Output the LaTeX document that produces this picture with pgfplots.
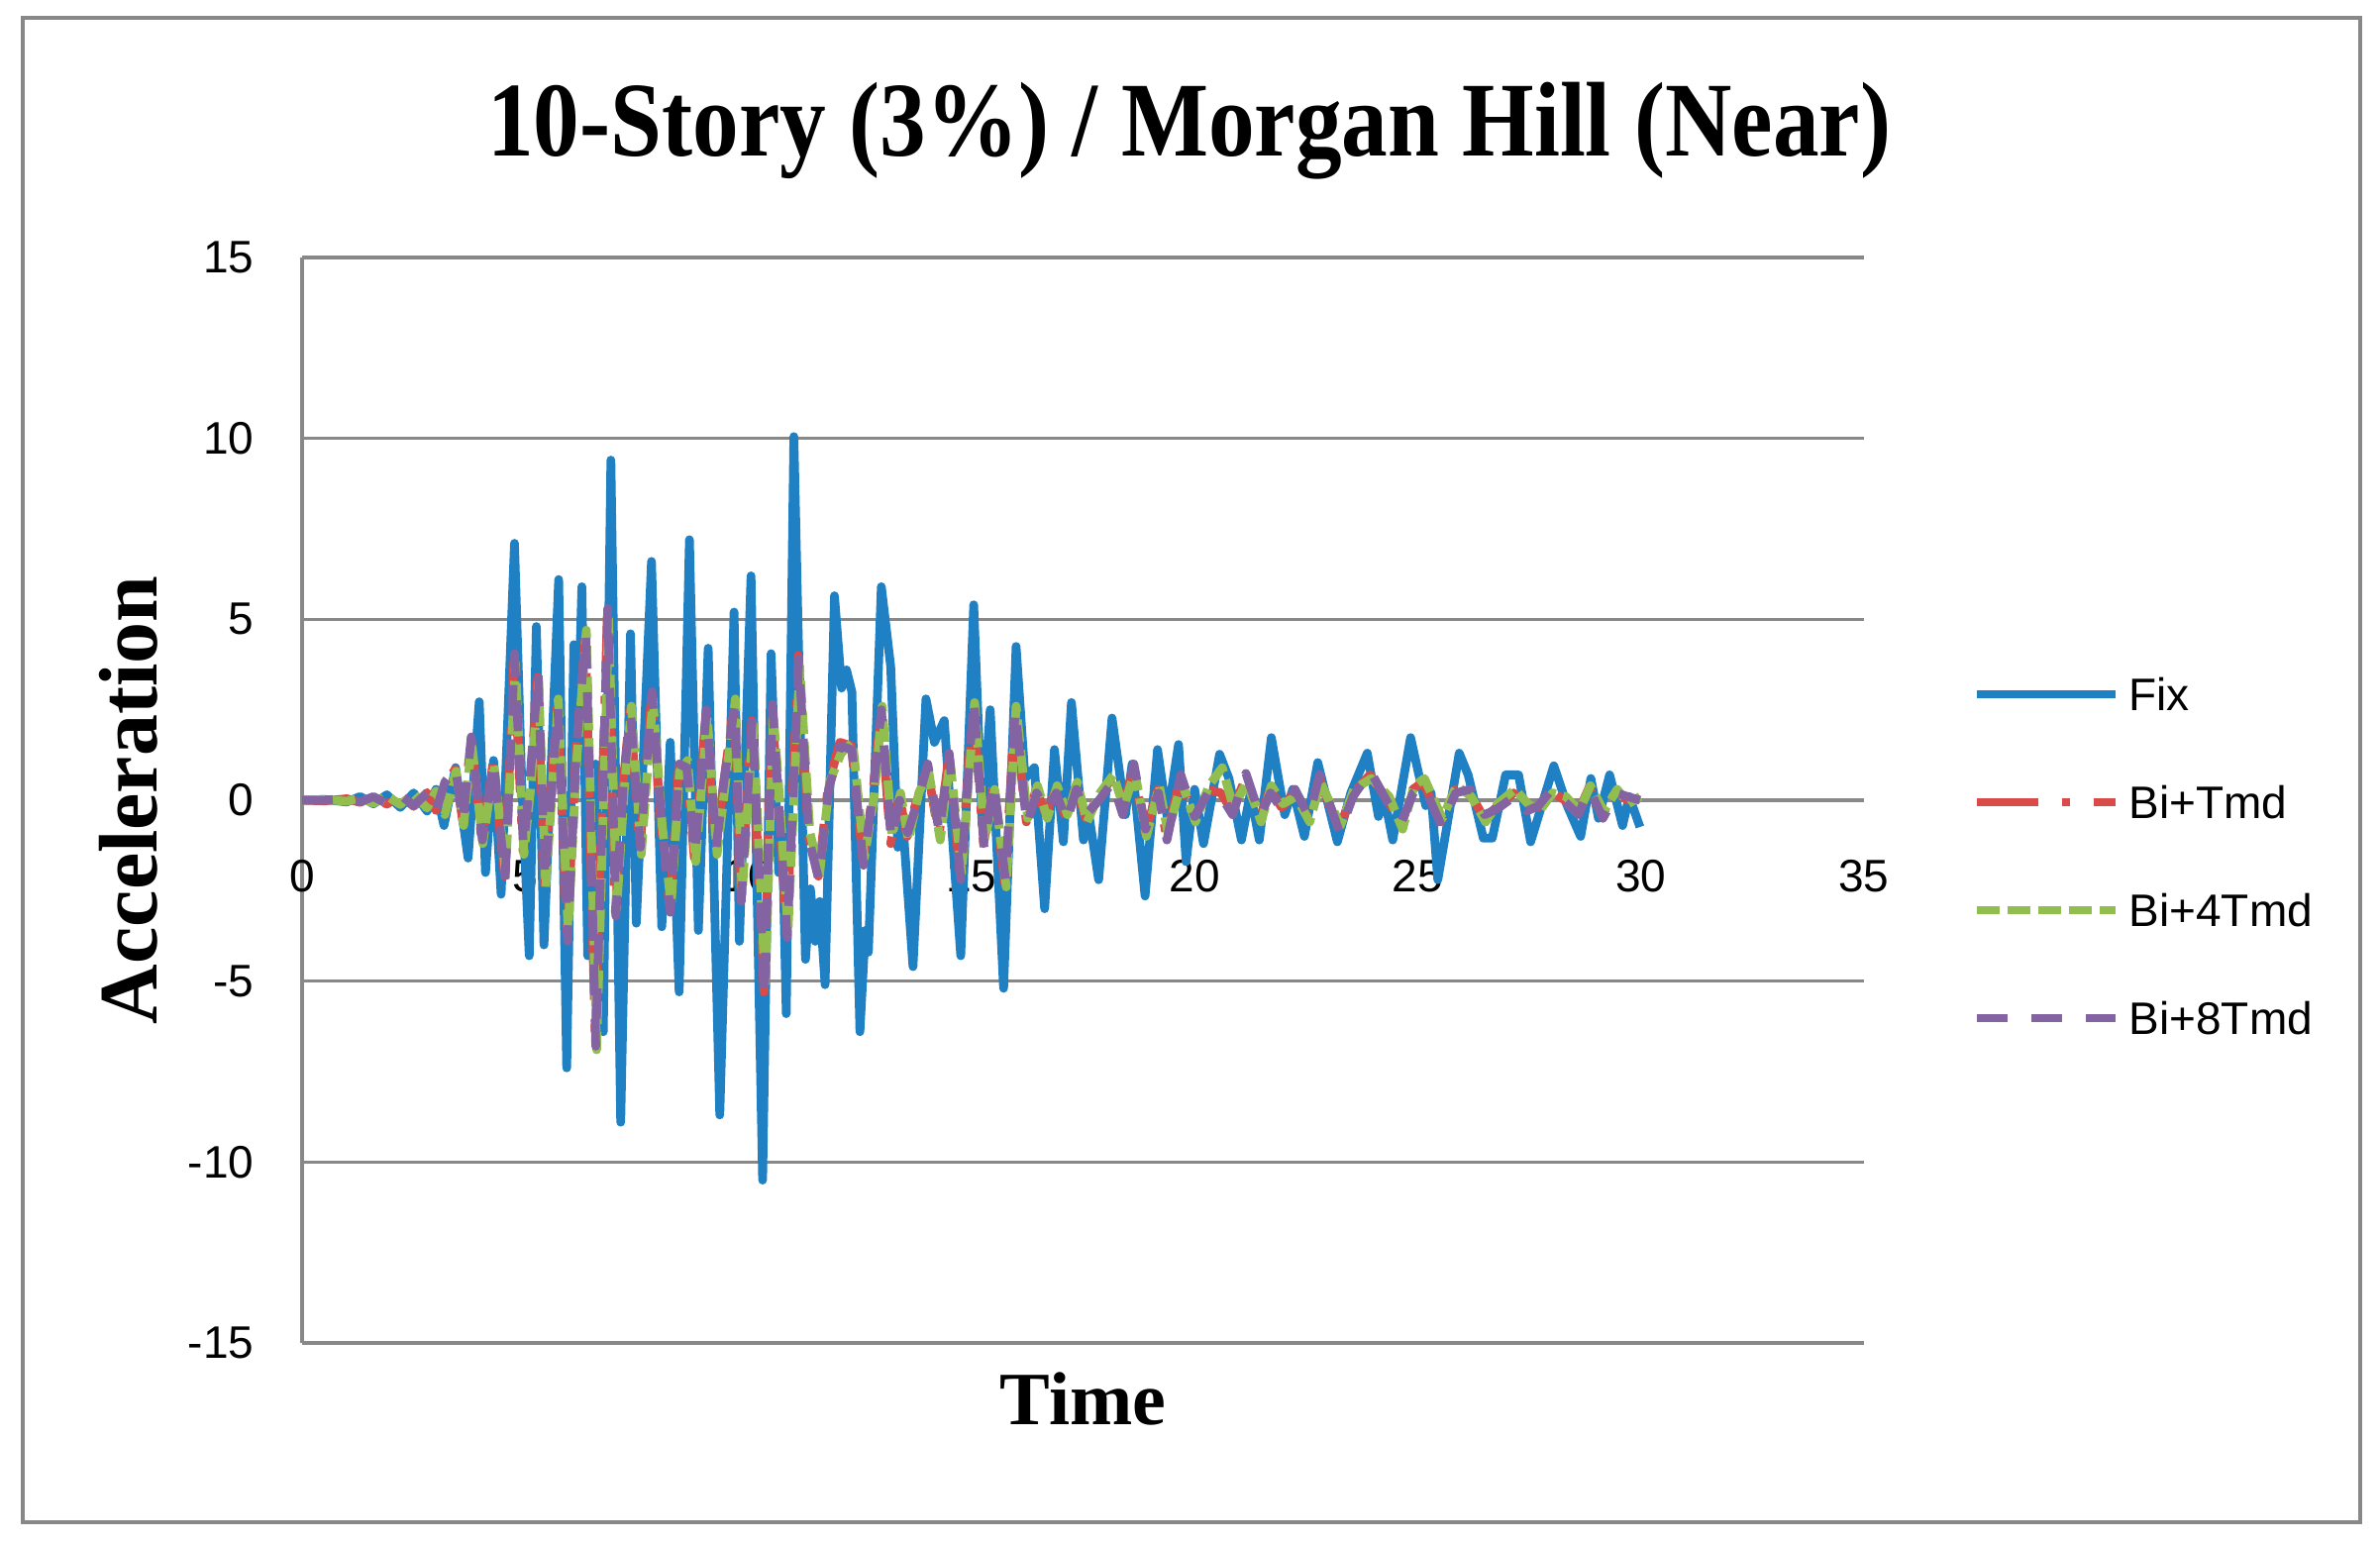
\documentclass[border=0pt]{standalone}
\usepackage{fontspec}
\setmainfont{Liberation Sans}
\newfontfamily\titlefont{Liberation Serif}
\usepackage{graphicx}
\usepackage{pgfplots}
\pgfplotsset{compat=1.18}

\definecolor{fixblue}{RGB}{31,128,196}
\definecolor{tmdred}{RGB}{217,75,72}
\definecolor{tmdgreen}{RGB}{146,190,80}
\definecolor{tmdpurple}{RGB}{132,99,163}
\definecolor{gridgray}{RGB}{136,136,136}

\begin{document}
\begin{tikzpicture}
\path[use as bounding box] (0,0) rectangle (600.75pt,389.75pt);
\draw[gridgray, line width=1pt] (5.75pt,5.5pt) rectangle (595.75pt,385.25pt);
\begin{axis}[
    at={(76.25pt,50.75pt)}, anchor=south west,
    scale only axis, width=394.25pt, height=274pt,
    xmin=0, xmax=35, ymin=-15, ymax=15,
    xtick={0,5,...,35}, ytick={-15,-10,...,15},
    axis x line*=middle, axis y line*=left,
    hide obscured x ticks=false, hide obscured y ticks=false,
    axis line style={draw=gridgray, line width=1pt},
    ymajorgrids, major grid style={draw=gridgray, line width=0.8pt},
    major tick length=0pt, tick style={draw=none},
    /pgf/number format/assume math mode=true,
    ticklabel style={font=\fontsize{11.5}{13}\selectfont, inner sep=0pt},
    xticklabel style={anchor=north, yshift=-15pt},
    yticklabel style={anchor=east, xshift=-12pt},
    title={\scalebox{0.87}[1]{10-Story (3\%) / Morgan Hill (Near)}},
    every axis title/.style={at={(axis description cs:0.568,1.0931)}, anchor=base,
        font=\titlefont\bfseries\fontsize{26.8}{30}\selectfont},
    xlabel={Time},
    every axis x label/.style={at={(axis description cs:0.5,-0.0757)}, anchor=base,
        font=\titlefont\bfseries\fontsize{19}{22}\selectfont},
    ylabel={Acceleration},
    every axis y label/.style={at={(axis description cs:-0.0932,0.5)}, anchor=base, rotate=90,
        font=\titlefont\bfseries\fontsize{21}{24}\selectfont},
    legend style={draw=none, fill=none, at={(axis description cs:1.069,0.4485)}, anchor=west,
        inner sep=0pt, font=\fontsize{11.5}{13}\selectfont, row sep=19pt,
        nodes={inner sep=0pt, text height=8.3pt, text depth=0pt},
        /tikz/every odd column/.append style={column sep=2.5pt}},
    legend cell align=left,
    legend image code/.code={\draw[#1, line width=2pt] (0pt,0pt) -- (35pt,0pt);},
    every axis plot/.append style={line width=2.2pt, line join=round},
]

% Fix
\addplot[fixblue] coordinates {
(0,0) (0.5,0.02) (1.0,-0.05) (1.3,0.1) (1.6,-0.1) (1.9,0.15) (2.2,-0.2) (2.5,0.2)
(2.8,-0.3) (3.0,0.3) (3.18,-0.7) (3.44,0.9) (3.72,-1.6) (3.97,2.72) (4.11,-2.0)
(4.29,1.1) (4.46,-2.6) (4.76,7.1) (4.92,0.55) (5.09,-4.3) (5.25,4.8) (5.42,-4.0)
(5.75,6.1) (5.93,-7.4) (6.09,4.3) (6.17,1.5) (6.27,5.9) (6.40,-4.3) (6.58,1.0)
(6.75,-6.4) (6.92,9.4) (7.14,-8.9) (7.36,4.6) (7.49,-3.4) (7.83,6.6) (8.06,-3.5)
(8.25,1.6) (8.45,-5.3) (8.68,7.2) (8.88,-3.6) (9.10,4.2) (9.36,-8.7) (9.68,5.2)
(9.80,-3.9) (10.06,6.2) (10.32,-10.5) (10.51,4.05) (10.68,-2.0) (10.76,-0.8)
(10.85,-5.9) (11.02,10.05) (11.28,-4.4) (11.39,-2.45) (11.50,-3.9) (11.6,-2.8)
(11.72,-5.1) (11.93,5.65) (12.09,3.1) (12.2,3.6) (12.32,3.0) (12.50,-6.4)
(12.62,-3.6) (12.69,-4.2) (12.98,5.9) (13.19,3.7) (13.35,-1.3) (13.45,-0.4)
(13.69,-4.6) (13.98,2.8) (14.17,1.6) (14.39,2.2) (14.76,-4.3) (15.05,5.4)
(15.24,-0.7) (15.42,2.5) (15.72,-5.2) (16.00,4.25) (16.2,0.6) (16.41,0.9)
(16.64,-3.0) (16.86,1.4) (17.06,-1.15) (17.24,2.7) (17.51,-1.1) (17.62,-0.3)
(17.85,-2.2) (18.15,2.27) (18.45,-0.4) (18.6,1.0) (18.89,-2.65) (19.17,1.4)
(19.39,-0.5) (19.64,1.54) (19.81,-1.7) (20.0,0.3) (20.2,-1.2) (20.56,1.27)
(20.77,0.6) (21.05,-1.1) (21.25,0.2) (21.45,-1.1) (21.72,1.73) (22.02,-0.4)
(22.2,0.3) (22.46,-1.0) (22.76,1.04) (23.2,-1.15) (23.5,0.2) (23.87,1.3)
(24.12,-0.45) (24.25,0.1) (24.44,-1.1) (24.84,1.73) (25.18,-0.15) (25.3,0.2)
(25.45,-2.2) (25.93,1.3) (26.13,0.7) (26.47,-1.05) (26.67,-1.05) (26.97,0.7)
(27.26,0.7) (27.53,-1.15) (28.05,0.95) (28.35,-0.15) (28.65,-1.0) (28.88,0.6)
(29.05,-0.5) (29.3,0.7) (29.59,-0.7) (29.74,0.1) (29.98,-0.74)
};
\addlegendentry{Fix}

% Bi+Tmd
\addplot[tmdred, dash pattern=on 15.5pt off 6pt on 2pt off 6pt] coordinates {
(0,0) (0.5,-0.02) (1.0,0.04) (1.3,-0.06) (1.6,0.09) (1.9,-0.11) (2.2,0.14) (2.5,-0.17)
(2.8,0.21) (3.0,-0.28) (3.2,0.45) (3.43,0.85) (3.61,-0.65) (3.78,1.7) (4.03,-1.15)
(4.28,1.05) (4.54,-2.1) (4.75,3.9) (4.95,-1.4) (5.11,0.4) (5.28,3.4) (5.43,-2.3)
(5.72,2.7) (5.94,-3.8) (6.14,1.4) (6.35,4.5) (6.57,-6.6) (6.84,5.1) (7.02,-3.1)
(7.19,0.4) (7.35,2.5) (7.57,-1.4) (7.83,2.9) (8.04,-0.6) (8.24,-3.0) (8.44,0.9)
(8.61,1.0) (8.79,-1.6) (9.05,2.4) (9.27,-1.4) (9.44,0.4) (9.68,2.7) (9.83,-2.7)
(10.08,2.2) (10.35,-5.3) (10.53,2.5) (10.69,-0.4) (10.86,-3.7) (11.12,4.0)
(11.35,-1.0) (11.57,-2.1) (11.79,0.4) (12.05,1.6) (12.31,1.5) (12.57,-1.7)
(12.79,0.2) (12.97,2.4) (13.19,-1.2) (13.38,0.1) (13.56,-1.0) (13.79,0.1)
(14.01,0.9) (14.27,-1.0) (14.49,1.2) (14.75,-2.1) (15.04,2.6) (15.27,-1.2)
(15.49,0.4) (15.75,-2.3) (15.97,2.4) (16.23,-0.6) (16.45,0.3) (16.67,-0.4)
(16.89,0.3) (17.12,-0.5) (17.34,0.4) (17.56,-0.5) (17.85,0.1) (18.15,0.6)
(18.38,-0.3) (18.63,0.9) (18.89,-0.9) (19.18,0.3) (19.37,-1.0) (19.68,0.6)
(19.99,-0.5) (20.29,0.3) (20.59,0.2) (20.84,-0.3) (21.14,0.6) (21.46,-0.5)
(21.69,0.3) (21.95,-0.2) (22.24,0.2) (22.55,-0.5) (22.79,0.6) (23.24,-0.8)
(23.54,0.2) (23.93,0.7) (24.33,0.0) (24.63,-0.7) (24.89,0.3) (25.12,0.5)
(25.52,-0.6) (25.84,0.3) (26.17,0.2) (26.49,-0.5) (26.76,-0.2) (27.15,0.2)
(27.44,-0.2) (27.70,-0.2) (27.99,0.25) (28.29,0.0) (28.59,-0.35) (28.84,0.35)
(29.14,-0.4) (29.44,0.25) (29.69,0.0) (29.97,0.05)
};
\addlegendentry{Bi+Tmd}

% Bi+4Tmd
\addplot[tmdgreen, dash pattern=on 5.75pt off 2pt] coordinates {
(0,0) (0.5,0.02) (1.0,-0.03) (1.3,0.06) (1.6,-0.08) (1.9,0.12) (2.2,-0.12) (2.5,0.18)
(2.8,-0.22) (3.0,0.25) (3.2,-0.4) (3.45,0.8) (3.62,-0.7) (3.80,1.6) (4.05,-1.2)
(4.30,1.0) (4.56,-2.0) (4.78,3.8) (4.97,-1.5) (5.12,0.3) (5.30,3.3) (5.46,-2.4)
(5.74,2.8) (5.96,-3.6) (6.16,1.2) (6.37,4.7) (6.60,-6.9) (6.87,5.0) (7.05,-3.0)
(7.22,0.3) (7.38,2.6) (7.60,-1.5) (7.86,2.8) (8.07,-0.7) (8.27,-2.9) (8.46,0.8)
(8.64,1.1) (8.82,-1.7) (9.08,2.3) (9.30,-1.5) (9.47,0.3) (9.71,2.8) (9.86,-2.6)
(10.11,2.1) (10.38,-5.2) (10.56,2.4) (10.72,-0.3) (10.89,-3.6) (11.15,3.7)
(11.38,-0.9) (11.60,-2.0) (11.82,0.5) (12.08,1.3) (12.34,1.6) (12.60,-1.6)
(12.82,0.1) (13.00,2.6) (13.22,-1.0) (13.41,0.2) (13.59,-1.1) (13.82,0.2)
(14.04,0.8) (14.30,-1.1) (14.52,1.1) (14.78,-2.0) (15.07,2.7) (15.30,-1.1)
(15.52,0.3) (15.78,-2.4) (16.00,2.6) (16.26,-0.5) (16.48,0.4) (16.70,-0.5)
(16.92,0.4) (17.15,-0.4) (17.37,0.5) (17.59,-0.6) (17.88,0.2) (18.18,0.7)
(18.41,-0.2) (18.66,0.8) (18.92,-1.0) (19.21,0.4) (19.40,-0.9) (19.71,0.5)
(20.02,-0.6) (20.32,0.4) (20.62,0.9) (20.87,-0.2) (21.17,0.5) (21.49,-0.6)
(21.72,0.4) (21.98,-0.1) (22.27,0.1) (22.58,-0.6) (22.82,0.5) (23.27,-0.7)
(23.57,0.3) (23.96,0.6) (24.36,0.1) (24.66,-0.8) (24.92,0.4) (25.15,0.6)
(25.55,-0.5) (25.87,0.4) (26.20,0.1) (26.52,-0.6) (26.79,-0.1) (27.18,0.3)
(27.47,-0.1) (27.73,-0.3) (28.02,0.2) (28.32,0.1) (28.62,-0.3) (28.87,0.4)
(29.17,-0.3) (29.47,0.3) (29.72,-0.1) (29.98,0.1)
};
\addlegendentry{Bi+4Tmd}

% Bi+8Tmd
\addplot[tmdpurple, dash pattern=on 7.75pt off 6pt] coordinates {
(0,0) (0.5,0) (1.0,0.05) (1.3,-0.05) (1.6,0.1) (1.9,-0.1) (2.2,0.15) (2.5,-0.15)
(2.8,0.2) (3.0,-0.3) (3.2,0.5) (3.44,0.9) (3.6,-0.6) (3.79,1.75) (4.04,-1.1)
(4.29,1.1) (4.55,-2.2) (4.76,4.05) (4.96,-1.3) (5.1,0.5) (5.29,3.55) (5.44,-2.2)
(5.73,2.6) (5.95,-3.9) (6.15,1.5) (6.36,4.6) (6.58,-6.8) (6.85,5.3) (7.03,-3.2)
(7.20,0.5) (7.36,2.4) (7.58,-1.3) (7.84,3.0) (8.05,-0.5) (8.25,-3.1) (8.45,1.0)
(8.62,0.9) (8.8,-1.5) (9.06,2.5) (9.28,-1.3) (9.45,0.5) (9.69,2.6) (9.84,-2.8)
(10.09,2.3) (10.36,-5.45) (10.54,2.65) (10.70,-0.5) (10.87,-3.8) (11.13,3.9)
(11.36,-1.1) (11.58,-2.2) (11.80,0.3) (12.06,1.5) (12.32,1.4) (12.58,-1.8)
(12.80,0.3) (12.98,2.5) (13.20,-1.1) (13.39,0.0) (13.57,-0.9) (13.80,0.0)
(14.02,1.0) (14.28,-0.9) (14.50,1.3) (14.76,-2.2) (15.05,2.8) (15.28,-1.3)
(15.50,0.5) (15.76,-2.2) (15.98,2.5) (16.24,-0.7) (16.46,0.2) (16.68,-0.3)
(16.90,0.2) (17.13,-0.6) (17.35,0.3) (17.57,-0.4) (17.86,0.0) (18.16,0.5)
(18.39,-0.4) (18.64,1.0) (18.90,-0.8) (19.19,0.2) (19.38,-1.1) (19.69,0.7)
(20.0,-0.45) (20.3,0.2) (20.6,0.1) (20.85,-0.4) (21.15,0.74) (21.47,-0.45)
(21.7,0.2) (21.96,-0.25) (22.25,0.3) (22.56,-0.45) (22.8,0.7) (23.25,-0.9)
(23.55,0.1) (23.94,0.8) (24.34,-0.1) (24.64,-0.6) (24.9,0.2) (25.13,0.4)
(25.53,-0.7) (25.85,0.2) (26.18,0.3) (26.5,-0.4) (26.77,-0.25) (27.16,0.1)
(27.45,-0.3) (27.71,-0.15) (28.0,0.3) (28.3,-0.05) (28.6,-0.4) (28.85,0.3)
(29.15,-0.5) (29.45,0.2) (29.7,0.1) (29.98,0.0)
};
\addlegendentry{Bi+8Tmd}

\end{axis}
\end{tikzpicture}
\end{document}
